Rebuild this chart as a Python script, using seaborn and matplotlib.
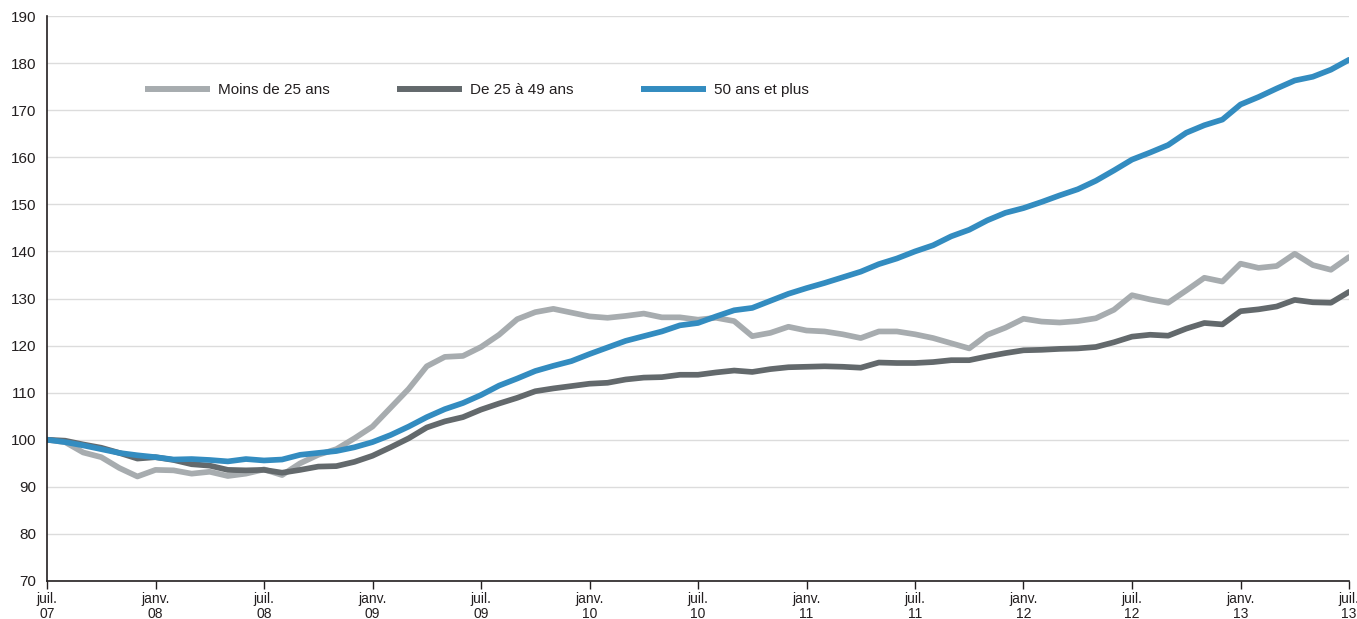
import numpy as np
import pandas as pd
import matplotlib
matplotlib.use("Agg")
import matplotlib.pyplot as plt
import seaborn as sns

# Monthly index values, juil. 2007 -> juil. 2013 (base 100 = juil. 2007)
moins_25 = [100.0, 99.5, 97.3, 96.3, 94.0, 92.2, 93.6, 93.5, 92.8, 93.2, 92.3, 92.8,
            93.7, 92.5, 95.0, 96.8, 98.0, 100.3, 102.8, 106.8, 110.8, 115.6, 117.6, 117.8,
            119.7, 122.3, 125.6, 127.1, 127.8, 127.0, 126.2, 125.9, 126.3, 126.8, 126.0, 126.0,
            125.5, 125.9, 125.2, 122.0, 122.7, 124.0, 123.2, 123.0, 122.4, 121.6, 123.0, 123.0,
            122.4, 121.6, 120.5, 119.4, 122.3, 123.8, 125.7, 125.1, 124.9, 125.2, 125.8, 127.6,
            130.7, 129.8, 129.1, 131.7, 134.4, 133.6, 137.4, 136.5, 136.9, 139.5, 137.1, 136.1,
            138.8]
de_25_49 = [100.0, 99.8, 99.0, 98.3, 97.2, 96.0, 96.3, 95.7, 94.8, 94.5, 93.6, 93.5,
            93.6, 93.0, 93.6, 94.3, 94.4, 95.3, 96.6, 98.4, 100.3, 102.6, 103.9, 104.8,
            106.4, 107.7, 108.9, 110.3, 110.9, 111.4, 111.9, 112.1, 112.8, 113.2, 113.3, 113.8,
            113.8, 114.3, 114.7, 114.4, 115.0, 115.4, 115.5, 115.6, 115.5, 115.3, 116.4, 116.3,
            116.3, 116.5, 116.9, 116.9, 117.7, 118.4, 119.0, 119.1, 119.3, 119.4, 119.7, 120.7,
            121.9, 122.3, 122.1, 123.6, 124.8, 124.5, 127.3, 127.7, 128.3, 129.7, 129.2, 129.1,
            131.4]
plus_50 = [100.0, 99.5, 98.8, 98.0, 97.2, 96.7, 96.3, 95.8, 95.9, 95.7, 95.4, 95.9,
           95.6, 95.8, 96.8, 97.2, 97.6, 98.4, 99.5, 101.0, 102.8, 104.8, 106.5, 107.8,
           109.5, 111.5, 113.0, 114.6, 115.7, 116.7, 118.2, 119.6, 121.0, 122.0, 123.0, 124.3,
           124.8, 126.2, 127.5, 128.0, 129.5, 131.0, 132.2, 133.3, 134.5, 135.7, 137.3, 138.5,
           140.0, 141.3, 143.2, 144.6, 146.6, 148.2, 149.2, 150.5, 151.9, 153.2, 155.0, 157.2,
           159.5, 161.0, 162.6, 165.2, 166.8, 168.0, 171.2, 172.8, 174.6, 176.3, 177.1, 178.6,
           180.7]

series_names = ["Moins de 25 ans", "De 25 à 49 ans", "50 ans et plus"]
series_colors = ["#A7ACAF", "#63696C", "#338CC0"]
tick_labels = ["juil.\n07", "janv.\n08", "juil.\n08", "janv.\n09", "juil.\n09", "janv.\n10",
               "juil.\n10", "janv.\n11", "juil.\n11", "janv.\n12", "juil.\n12", "janv.\n13",
               "juil.\n13"]
y_ticks = [70, 80, 90, 100, 110, 120, 130, 140, 150, 160, 170, 180, 190]

months = np.arange(len(plus_50))
df = pd.concat([
    pd.DataFrame({"mois": months, "valeur": vals, "serie": name})
    for name, vals in zip(series_names, [moins_25, de_25_49, plus_50])
], ignore_index=True)

sns.set_theme(style="white")
plt.rcParams["font.family"] = ["Liberation Sans", "DejaVu Sans"]

fig = plt.figure(figsize=(13.57, 6.19), dpi=100)
ax = fig.add_axes([47 / 1357, (619 - 581) / 619, (1349 - 47) / 1357, (581 - 16) / 619])

sns.lineplot(data=df, x="mois", y="valeur", hue="serie", hue_order=series_names,
             palette=dict(zip(series_names, series_colors)), linewidth=4.1,
             ax=ax, legend=True)
for line in ax.get_lines():
    line.set_solid_capstyle("round")
    line.set_solid_joinstyle("round")

ax.set_xlim(0, len(plus_50) - 1)
ax.set_ylim(70, 190)
ax.set_yticks(y_ticks)
ax.set_yticklabels([str(v) for v in y_ticks], fontsize=11, color="#231F20")
ax.set_xticks(np.arange(0, len(plus_50), 6))
ax.set_xticklabels(tick_labels, fontsize=10, color="#231F20", linespacing=1.1)
ax.tick_params(axis="y", length=0, pad=8)
ax.tick_params(axis="x", length=6, width=1, color="#231F20", direction="out", pad=2, bottom=True)
ax.set_xlabel("")
ax.set_ylabel("")

ax.yaxis.grid(True, color="#DCDCDC", linewidth=1)
ax.xaxis.grid(False)
ax.set_axisbelow(True)
for side in ["top", "right"]:
    ax.spines[side].set_visible(False)
for side in ["left", "bottom"]:
    ax.spines[side].set_color("#231F20")
    ax.spines[side].set_linewidth(1.2)

handles, labels = ax.get_legend_handles_labels()
leg = ax.legend(handles, labels, loc="center left", ncol=3, frameon=False,
                bbox_to_anchor=(145 / 1357, (619 - 90) / 619), bbox_transform=fig.transFigure,
                borderpad=0, borderaxespad=0, handlelength=4.25, handletextpad=0.5,
                columnspacing=4.45, prop={"size": 11})
for h in leg.get_lines():
    h.set_solid_capstyle("butt")
    h.set_linewidth(4.3)
for t in leg.get_texts():
    t.set_color("#231F20")

fig.savefig("out.png", dpi=100, facecolor="white")
